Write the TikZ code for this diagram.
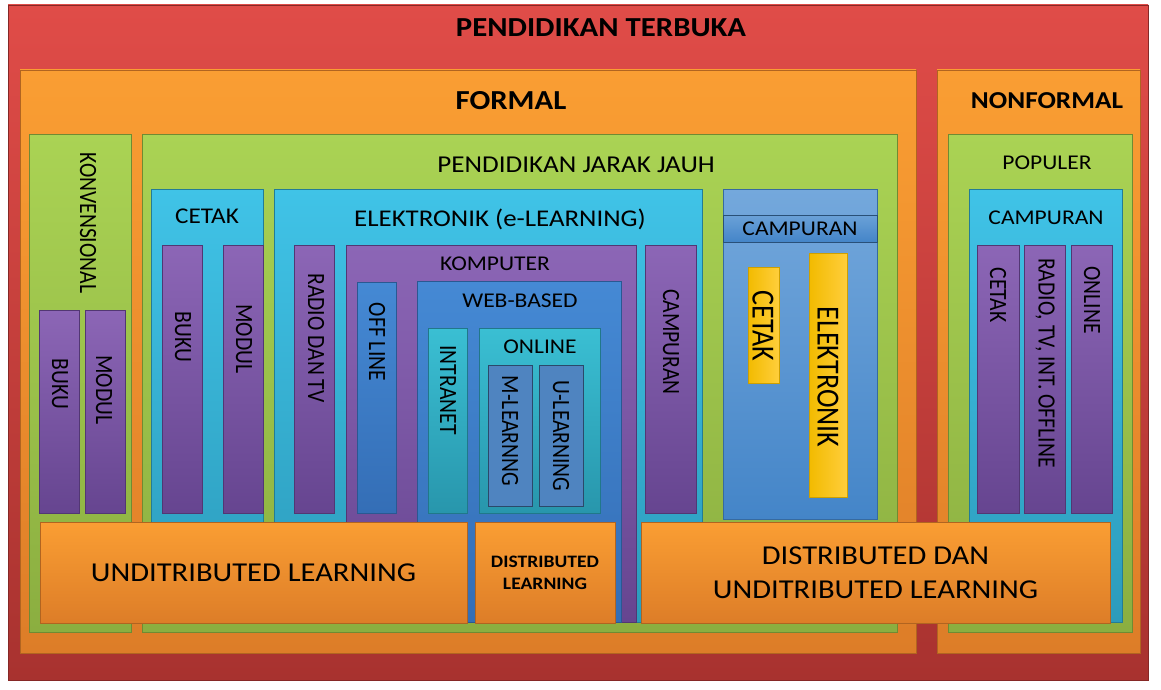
\documentclass[tikz,border=0pt]{standalone}
\usepackage{graphicx}
\usepackage{fontspec}
\setmainfont{Carlito}
\newfontfamily\lebar{Carlito}[FakeStretch=1.12]
\newcommand{\tegak}[1]{\scalebox{1}[1.15]{#1}}
\definecolor{RedTop}{HTML}{E04C48}
\definecolor{RedBot}{HTML}{A8322F}
\definecolor{OrgTop}{HTML}{FA9E33}
\definecolor{OrgBot}{HTML}{DD7D28}
\definecolor{GrnTop}{HTML}{AAD354}
\definecolor{GrnBot}{HTML}{8BAE40}
\definecolor{CyaTop}{HTML}{40C3E7}
\definecolor{CyaBot}{HTML}{2C9BBB}
\definecolor{PurTop}{HTML}{8C66B6}
\definecolor{PurBot}{HTML}{664590}
\definecolor{BluTop}{HTML}{4589D4}
\definecolor{BluBot}{HTML}{346EB6}
\definecolor{TealTop}{HTML}{3ABFD3}
\definecolor{TealBot}{HTML}{2896AC}
\definecolor{SteelBlue}{HTML}{4F84C0}
\definecolor{MixTop}{HTML}{74A8DC}
\definecolor{MixBot}{HTML}{4485C8}
\definecolor{GoldL}{HTML}{F2BB00}
\definecolor{GoldR}{HTML}{FFCE3C}

\begin{document}
\begin{tikzpicture}[x=1pt, y=-1pt,
  every node/.style={inner sep=0pt, outer sep=0pt, text=black},
  kotak/.style 2 args={anchor=north west, minimum width=#1pt, minimum height=#2pt, line width=0.6pt},
  merah/.style={top color=RedTop, bottom color=RedBot, draw=RedBot!80!black},
  jingga/.style={top color=OrgTop, bottom color=OrgBot, draw=OrgBot!80!black},
  hijau/.style={top color=GrnTop, bottom color=GrnBot, draw=GrnBot!80!black},
  sian/.style={top color=CyaTop, bottom color=CyaBot, draw=CyaBot!80!black},
  ungu/.style={top color=PurTop, bottom color=PurBot, draw=PurBot!80!black},
  biru/.style={top color=BluTop, bottom color=BluBot, draw=BluBot!80!black},
  tosca/.style={top color=TealTop, bottom color=TealBot, draw=TealBot!80!black},
  kecil/.style={fill=SteelBlue, draw=SteelBlue!55!black, line width=1.6pt},
  campur/.style={top color=MixTop, bottom color=MixBot, draw=MixBot!80!black},
  pita/.style={top color=MixTop!80!MixBot, bottom color=MixBot, draw=MixBot!60!black},
  kuning/.style={left color=GoldL, right color=GoldR, draw=GoldL!85!black},
  bar/.style={jingga, align=center, font=\lebar\fontsize{27.3}{34}\selectfont},
  judul/.style={font=\lebar\bfseries\fontsize{27.5}{32}\selectfont},
  lbl/.style={font=\lebar\fontsize{22.5}{27}\selectfont},
  lbls/.style={font=\lebar\fontsize{21}{25}\selectfont},
  vlbl/.style={rotate=-90, font=\fontsize{21.6}{25}\selectfont},
  vbig/.style={rotate=-90, font=\fontsize{28}{31}\selectfont}]

  \useasboundingbox (0,0) rectangle (1161,690);

  % ===== outer frame =====
  \node[merah, kotak={1140}{675}] (terbuka) at (8,5) {};
  \node[judul] (t-terbuka) at (601,28) {PENDIDIKAN TERBUKA};

  % ===== formal / nonformal =====
  \node[jingga, kotak={896}{583}] (formal) at (20,70) {};
  \node[judul] (t-formal) at (511,101) {FORMAL};
  \node[jingga, kotak={203}{583}] (nonformal) at (937,70) {};
  \node[judul, font=\lebar\bfseries\fontsize{24.3}{30}\selectfont] (t-nonformal) at (1047,101) {NONFORMAL};

  % ===== green columns =====
  \node[hijau, kotak={102}{498}] (konv) at (29,134) {};
  \node[vlbl] (t-konv) at (88,223) {\tegak{KONVENSIONAL}};
  \node[hijau, kotak={755}{498}] (pjj) at (142,134) {};
  \node[lbl, font=\lebar\fontsize{24.2}{28}\selectfont] (t-pjj) at (576,165) {PENDIDIKAN JARAK JAUH};
  \node[hijau, kotak={184}{498}] (populer) at (948,134) {};
  \node[lbls] (t-populer) at (1047,163) {POPULER};

  % ===== second level =====
  \node[sian, kotak={112}{433}] (cetak) at (151,189) {};
  \node[lbl] (t-cetak) at (207,216) {CETAK};
  \node[sian, kotak={428}{433}] (elektronik) at (274,189) {};
  \node[lbl, font=\lebar\fontsize{24}{28}\selectfont] (t-elektronik) at (500,219) {ELEKTRONIK (e-LEARNING)};
  \node[campur, kotak={154}{330}] (campuran) at (723,189) {};
  \node[pita, kotak={154}{27}] (pita-campuran) at (723,215) {};
  \node[lbls] (t-campuran) at (800,229) {CAMPURAN};
  \node[sian, kotak={153}{433}] (campuran-nf) at (969,189) {};
  \node[lbls] (t-campuran-nf) at (1046,218) {CAMPURAN};

  % ===== konvensional =====
  \node[ungu, kotak={40}{203}] (buku-k) at (39,310) {};
  \node[vlbl] (t-buku-k) at (60,384) {\tegak{BUKU}};
  \node[ungu, kotak={40}{203}] (modul-k) at (85,310) {};
  \node[vlbl] (t-modul-k) at (104,390) {\tegak{MODUL}};

  % ===== cetak =====
  \node[ungu, kotak={40}{268}] (buku-c) at (162,245) {};
  \node[vlbl] (t-buku-c) at (183,337) {\tegak{BUKU}};
  \node[ungu, kotak={40}{268}] (modul-c) at (223,245) {};
  \node[vlbl] (t-modul-c) at (244,339) {\tegak{MODUL}};

  % ===== elektronik =====
  \node[ungu, kotak={40}{268}] (radio) at (294,245) {};
  \node[vlbl] (t-radio) at (316,338) {\tegak{RADIO DAN TV}};
  \node[ungu, kotak={290}{377}] (komputer) at (346,245) {};
  \node[lbls] (t-komputer) at (495,264) {KOMPUTER};
  \node[biru, kotak={39}{231}] (offline) at (357,282) {};
  \node[vlbl] (t-offline) at (377,342) {\tegak{OFF LINE}};
  \node[biru, kotak={204}{341}] (webbased) at (417,281) {};
  \node[lbls] (t-webbased) at (520,301) {WEB-BASED};
  \node[tosca, kotak={39}{185}] (intranet) at (428,328) {};
  \node[vlbl] (t-intranet) at (448,390) {\tegak{INTRANET}};
  \node[tosca, kotak={121}{185}] (online) at (479,328) {};
  \node[lbls] (t-online) at (540,347) {ONLINE};
  \node[kecil, kotak={44}{141}] (mlearn) at (488,365) {};
  \node[vlbl] (t-mlearn) at (510,431) {\tegak{M-LEARNNG}};
  \node[kecil, kotak={44}{141}] (ulearn) at (539,365) {};
  \node[vlbl] (t-ulearn) at (561,436) {\tegak{U-LEARNING}};
  \node[ungu, kotak={51}{268}] (campuran-e) at (645,245) {};
  \node[vlbl] (t-campuran-e) at (671,342) {\tegak{CAMPURAN}};

  % ===== campuran (formal) =====
  \node[kuning, kotak={31}{116}] (cetak-y) at (748,267) {};
  \node[vbig] (t-cetak-y) at (763,326) {\tegak{CETAK}};
  \node[kuning, kotak={38}{244}] (elektronik-y) at (809,253) {};
  \node[vbig] (t-elektronik-y) at (828,377) {\tegak{ELEKTRONIK}};

  % ===== nonformal =====
  \node[ungu, kotak={42}{268}] (cetak-nf) at (977,245) {};
  \node[vlbl] (t-cetak-nf) at (998,295) {\tegak{CETAK}};
  \node[ungu, kotak={41}{268}] (radio-nf) at (1024,245) {};
  \node[vlbl] (t-radio-nf) at (1045,363) {\tegak{RADIO, TV, INT. OFFLINE}};
  \node[ungu, kotak={41}{268}] (online-nf) at (1071,245) {};
  \node[vlbl] (t-online-nf) at (1092,300) {\tegak{ONLINE}};

  % ===== learning bars =====
  \node[bar, kotak={427}{101}] (undist) at (40,522) {UNDITRIBUTED LEARNING};
  \node[bar, kotak={140}{101}, font=\lebar\bfseries\fontsize{17.5}{22}\selectfont] (dist) at (475,522) {DISTRIBUTED\\LEARNING};
  \node[bar, kotak={469}{101}] (dist-undist) at (641,522) {DISTRIBUTED DAN\\UNDITRIBUTED LEARNING};

\end{tikzpicture}
\end{document}
